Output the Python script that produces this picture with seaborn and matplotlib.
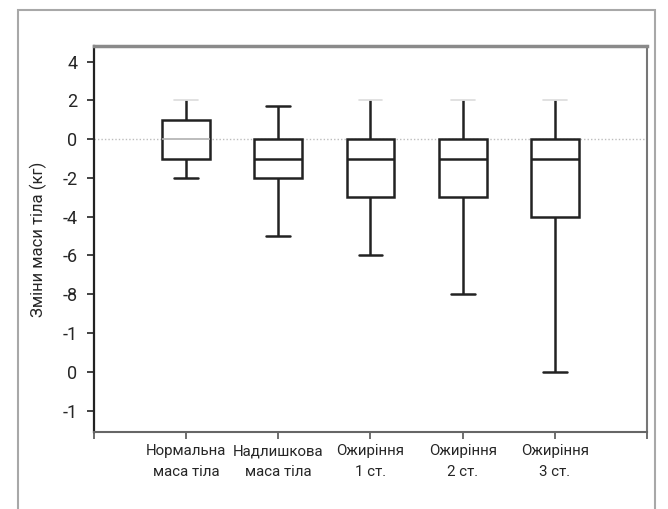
"""Box plot of body weight change by BMI group."""
import matplotlib
matplotlib.use("Agg")
import matplotlib.pyplot as plt
from matplotlib.patches import Rectangle
import numpy as np
import pandas as pd
import seaborn as sns

categories = ["Нормальна\nмаса тіла", "Надлишкова\nмаса тіла", "Ожиріння\n1 ст.",
              "Ожиріння\n2 ст.", "Ожиріння\n3 ст."]
whisker_low = [-2, -5, -6, -8, -12]
q1 = [-1, -2, -3, -3, -4]
median = [0, -1, -1, -1, -1]
q3 = [1, 0, 0, 0, 0]
whisker_high = [2, 1.7, 2, 2, 2]

y_ticks = [4, 2, 0, -2, -4, -6, -8, -10, -12, -14]
y_tick_labels = ["4", "2", "0", "-2", "-4", "-6", "-8", "-1", "0", "-1"]

# five-number summary -> 5 points; with whis=(0, 100) the box reproduces it exactly
rows = []
for cat, lo, a, m, b, hi in zip(categories, whisker_low, q1, median, q3, whisker_high):
    for v in (lo, a, m, b, hi):
        rows.append({"group": cat, "value": v})
df = pd.DataFrame(rows)

sns.set_style("white")
plt.rcParams["font.family"] = ["Roboto", "DejaVu Sans"]

fig = plt.figure(figsize=(6.68, 5.09), dpi=100)
ax = fig.add_axes([94 / 668, 1 - 432 / 509, (647 - 94) / 668, (432 - 46) / 509])

ax.axhline(0, color="#bdbdbd", linestyle=(0, (1, 1.5)), linewidth=1, zorder=0)
sns.boxplot(data=df, x="group", y="value", order=categories, whis=(0, 100),
            width=0.52, color="white", linecolor="#222222", linewidth=1.8,
            fliersize=0, ax=ax)

# faint marks in the scanned reference: first median and the caps at +2
for ln in ax.lines:
    xd, yd = np.asarray(ln.get_xdata(), float), np.asarray(ln.get_ydata(), float)
    if len(yd) != 2 or yd[0] != yd[1] or xd[0] == xd[1]:
        continue
    if yd[0] == 0 and xd.max() < 0.5:
        ln.set_color("#b0b0b0")
        ln.set_linewidth(1.2)
    elif yd[0] == 2:
        ln.set_color("#dcdcdc")
        ln.set_linewidth(1.2)

ax.set_xlim(-1, 5)
ax.set_ylim(-15.1, 4.8)
ax.set_xticks(range(-1, 6))
ax.set_xticklabels([""] + categories + [""], fontsize=10.8, linespacing=1.55)
ax.set_yticks(y_ticks)
ax.set_yticklabels(y_tick_labels, fontsize=13)
ax.set_xlabel("")
ax.set_ylabel("Зміни маси тіла (кг)", fontsize=12, labelpad=11)

ax.tick_params(axis="y", left=True, direction="out", length=5, width=1.2,
               color="#222222", pad=7)
ax.tick_params(axis="x", bottom=True, direction="out", length=5, width=1.2,
               color="#555555", pad=4)

ax.spines["left"].set_color("#222222")
ax.spines["left"].set_linewidth(1.6)
ax.spines["bottom"].set_color("#666666")
ax.spines["bottom"].set_linewidth(1.5)
ax.spines["top"].set_color("#8a8a8a")
ax.spines["top"].set_linewidth(2.5)
ax.spines["right"].set_color("#777777")
ax.spines["right"].set_linewidth(1.5)

# outer frame of the picture
fig.patches.append(Rectangle((18 / 668, -0.1), (655 - 18) / 668, 1.1 - 10 / 509,
                             transform=fig.transFigure, fill=False,
                             edgecolor="#a8a8a8", linewidth=1.5))

fig.savefig("out.png", dpi=100)
plt.close(fig)
